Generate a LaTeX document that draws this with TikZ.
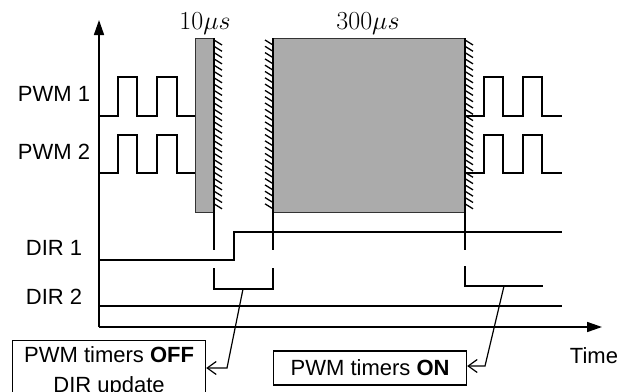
\documentclass[tikz,border=0pt]{standalone}
\usepackage{fix-cm}
\usepackage{fontspec}
\setmainfont{Liberation Sans}
\usetikzlibrary{arrows.meta}
\begin{document}
\begin{tikzpicture}[x=1pt,y=-1pt,
  sig/.style={line width=1.6pt, line join=miter},
  wall/.style={line width=1.6pt},
  hatch/.style={line width=1.3pt},
  shade/.style={fill=black!33, draw=black!80, line width=1pt},
  lbl/.style={font=\fontsize{22}{26}\selectfont, inner sep=0pt},
  mth/.style={font=\fontsize{26}{30}\selectfont, inner sep=0pt},
  infobox/.style={draw, line width=1.2pt, minimum width=193pt, font=\fontsize{22}{30}\selectfont, align=center},
  callout/.style={line width=1.2pt, -{Straight Barb[length=9pt,width=13pt,line width=1.2pt]}}
]
\useasboundingbox (0,0) rectangle (628,391);
% shaded intervals
\path[shade] (195,38) rectangle (214,212);
\path[shade] (273,38) rectangle (465,212);
% walls
\draw[wall] (214,38) -- (214,250);
\draw[wall] (273,38) -- (273,250);
\draw[wall] (465,38) -- (465,250);
\foreach \y in {40,46.3,...,209} \draw[hatch] (214,\y) -- ++(8,5);
\foreach \y in {45,51.3,...,213} \draw[hatch] (273,\y) -- ++(-8,-5);
\foreach \y in {40,46.3,...,205} \draw[hatch] (465,\y) -- ++(8,5);
% axes
\coordinate (o) at (99,327);
\draw[line width=1.6pt, -{Triangle[length=15pt,width=10pt]}] (o) -- (99,20) coordinate (ytip);
\draw[line width=1.6pt, -{Triangle[length=15pt,width=10pt]}] (o) -- (602,327) coordinate (xtip);
% PWM signals
\draw[sig] (99,116) -| (118,77) -| (137,116) -| (157,77) -| (177,116) -- (195,116);
\draw[sig] (99,173) -| (118,135) -| (137,173) -| (157,135) -| (177,173) -- (195,173);
\draw[sig] (465,116) -| (484,77) -| (503,116) -| (523,77) -| (542,116) -- (562,116);
\draw[sig] (465,173) -| (484,135) -| (503,173) -| (523,135) -| (542,173) -- (562,173);
% DIR signals
\draw[sig] (99,260) -| (234,232) -- (562,232);
\draw[sig] (99,306) -- (562,306);
% brackets
\draw[sig] (214,268) -- (214,289) -- (273,289) -- (273,268);
\draw[sig] (465,266) -- (465,286) -- (543,286);
\coordinate (b1) at (243,289);
\coordinate (b2) at (504,286);
% labels
\node[lbl, anchor=base] (p1) at (54,101) {PWM 1};
\node[lbl, anchor=base] (p2) at (54,159) {PWM 2};
\node[lbl, anchor=base] (d1) at (54,255) {DIR 1};
\node[lbl, anchor=base] (d2) at (54,304) {DIR 2};
\node[lbl, anchor=base] (tm) at (594,363) {Time};
\node[mth, anchor=base] (t10) at (205,29) {$10\mu s$};
\node[mth, anchor=base] (t300) at (368,29) {$300\mu s$};
% boxes
\node[infobox, anchor=north west, inner ysep=6pt] (box1) at (12,340) {PWM timers \textbf{OFF}\\DIR update};
\node[infobox, anchor=west, minimum height=34pt] (box2) at (273,368) {PWM timers \textbf{ON}};
% callouts
\coordinate (k1) at (227,368);
\coordinate (k2) at (485,366);
\draw[callout] (b1) -- (k1) -- (k1 -| box1.east);
\draw[callout] (b2) -- (k2) -- (k2 -| box2.east);
\end{tikzpicture}
\end{document}
